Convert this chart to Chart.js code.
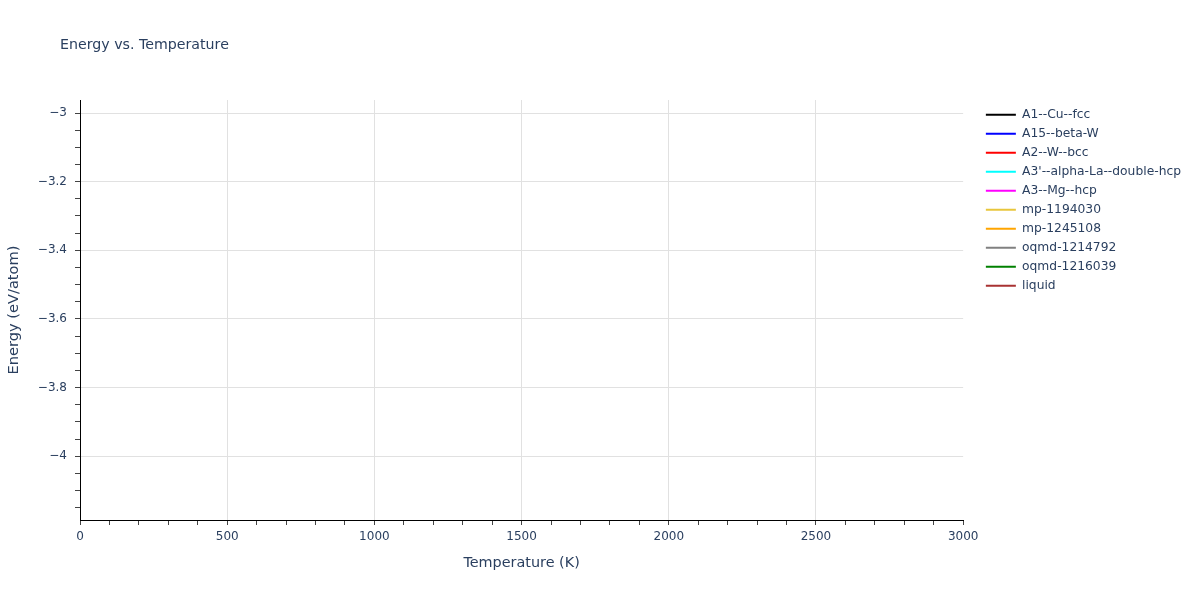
<!DOCTYPE html>
<html>
<head>
<meta charset="utf-8">
<script src="https://cdn.jsdelivr.net/npm/chart.js@4/dist/chart.umd.min.js"></script>
<style>
  html, body { margin: 0; padding: 0; background: #fff; }
  #wrap { width: 1200px; height: 600px; }
</style>
</head>
<body>
<div id="wrap"><canvas id="energy-chart" width="1200" height="600"></canvas></div>
<script>
// series as shown in the legend -- the reference plot draws no visible points
var seriesNames = ["A1--Cu--fcc", "A15--beta-W", "A2--W--bcc", "A3'--alpha-La--double-hcp",
	"A3--Mg--hcp", "mp-1194030", "mp-1245108", "oqmd-1214792", "oqmd-1216039", "liquid"];
var seriesColors = ["#000000", "#0000ff", "#ff0000", "#00ffff", "#ff00ff",
	"#e8c63c", "#ffa500", "#808080", "#008000", "#a83232"];

var temperatures = [];
var energyA1 = [];
var energyA15 = [];
var energyA2 = [];
var energyA3prime = [];
var energyA3 = [];
var energyMp1194030 = [];
var energyMp1245108 = [];
var energyOqmd1214792 = [];
var energyOqmd1216039 = [];
var energyLiquid = [];
var seriesValues = [energyA1, energyA15, energyA2, energyA3prime, energyA3,
	energyMp1194030, energyMp1245108, energyOqmd1214792, energyOqmd1216039, energyLiquid];

var xRange = [0, 3000];
var yRange = [-4.186, -2.962];

var textColor = "#2a3f5f";
var fontFamily = "'DejaVu Sans', Verdana, sans-serif";

function isMultiple(v, step) {
	var q = v / step;
	return Math.abs(q - Math.round(q)) < 1e-6;
}

function minus(v) {
	return String(v).replace("-", "\u2212");
}

var datasets = seriesNames.map(function(name, i) {
	return {
		label: name,
		data: seriesValues[i].map(function(e, k) { return { x: temperatures[k], y: e }; }),
		borderColor: seriesColors[i],
		backgroundColor: seriesColors[i],
		borderWidth: 2,
		pointRadius: 0,
		fill: false
	};
});

// plot title drawn at the top-left like the original
var titlePlugin = {
	id: "plotTitle",
	afterDraw: function(chart) {
		var c = chart.ctx;
		c.save();
		c.font = "14.2px " + fontFamily;
		c.fillStyle = textColor;
		c.textBaseline = "middle";
		c.textAlign = "left";
		c.fillText("Energy vs. Temperature", 60, 45);
		c.restore();
	}
};

// push the legend a little away from the plot area
var legendGap = {
	id: "legendGap",
	afterLayout: function(chart) {
		if (chart.legend) {
			chart.legend.left += 16;
			chart.legend.right += 16;
			chart.legend.top += 2;
			chart.legend.bottom += 2;
		}
	}
};

var ctx = document.getElementById("energy-chart");

new Chart(ctx, {
	type: "line",
	data: { datasets: datasets },
	plugins: [titlePlugin, legendGap],
	options: {
		responsive: false,
		animation: false,
		layout: { padding: { top: 100, right: 25, bottom: 0, left: 0 } },
		plugins: {
			title: { display: false },
			tooltip: { enabled: false },
			legend: {
				position: "right",
				align: "start",
				labels: {
					usePointStyle: true,
					pointStyle: "line",
					pointStyleWidth: 30,
					boxHeight: 12,
					padding: 6.7,
					color: textColor,
					font: { family: fontFamily, size: 12.3 }
				}
			}
		},
		scales: {
			x: {
				type: "linear",
				min: xRange[0],
				max: xRange[1],
				afterBuildTicks: function(scale) {
					scale.ticks = scale.ticks.filter(function(t) { return isMultiple(t.value, 100); });
				},
				afterFit: function(scale) { scale.height = 80; },
				ticks: {
					stepSize: 100,
					includeBounds: false,
					autoSkip: false,
					maxRotation: 0,
					padding: 5,
					color: textColor,
					font: { family: fontFamily, size: 12 },
					callback: function(v) { return isMultiple(v, 500) ? String(v) : ""; }
				},
				grid: {
					color: function(c) {
						var v = c.tick ? c.tick.value : 0;
						return (isMultiple(v, 500) && v > 0 && v < 3000) ? "#e1e1e1" : "rgba(0,0,0,0)";
					},
					tickColor: "#444",
					tickLength: 5,
					drawTicks: true
				},
				border: { color: "#000", width: 1 },
				title: {
					display: true,
					text: "Temperature (K)",
					color: textColor,
					font: { family: fontFamily, size: 14.4 },
					padding: { top: 0, bottom: 28 }
				}
			},
			y: {
				type: "linear",
				min: yRange[0],
				max: yRange[1],
				afterBuildTicks: function(scale) {
					scale.ticks = scale.ticks.filter(function(t) { return isMultiple(t.value, 0.05); });
				},
				afterFit: function(scale) { scale.width = 80; },
				ticks: {
					stepSize: 0.05,
					includeBounds: false,
					autoSkip: false,
					padding: 8,
					color: textColor,
					font: { family: fontFamily, size: 12 },
					callback: function(v) {
						return isMultiple(v, 0.2) ? minus(parseFloat(v.toFixed(1))) : "";
					}
				},
				grid: {
					color: function(c) {
						var v = c.tick ? c.tick.value : 0;
						return isMultiple(v, 0.2) ? "#e1e1e1" : "rgba(0,0,0,0)";
					},
					tickColor: "#444",
					tickLength: 5
				},
				border: { color: "#000", width: 1 },
				title: {
					display: true,
					text: "Energy (eV/atom)",
					color: textColor,
					font: { family: fontFamily, size: 14.6 },
					padding: { top: 5, bottom: 0 }
				}
			}
		}
	}
});
</script>
</body>
</html>
